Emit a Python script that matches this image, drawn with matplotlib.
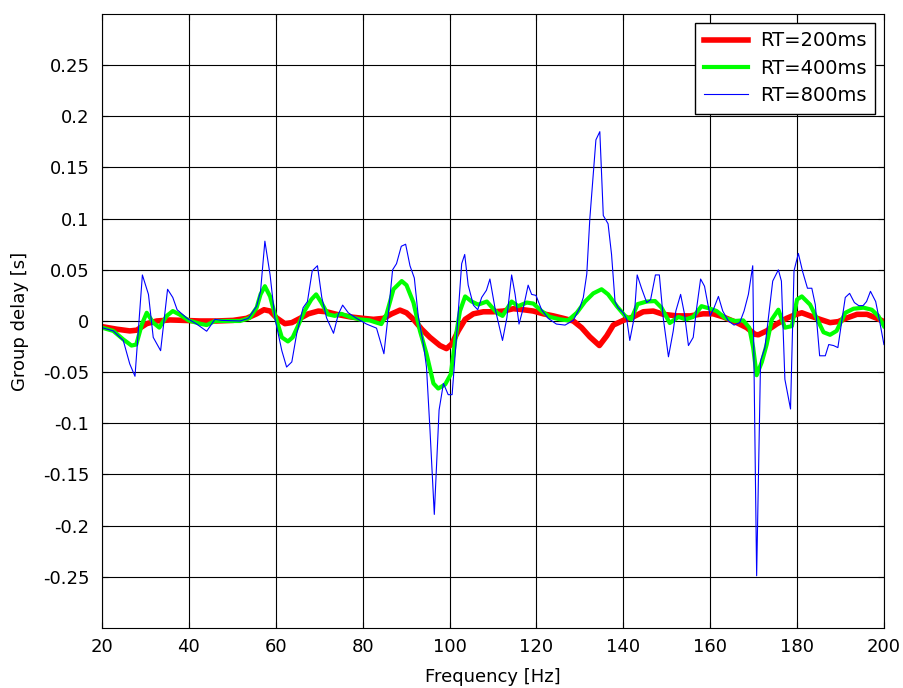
import matplotlib
matplotlib.use("Agg")
import matplotlib.pyplot as plt

plt.rcParams['font.family'] = ['DejaVu Sans']

# RT=200ms
f200 = [20, 23.4, 26.4, 28, 30.3, 32.6, 35.7, 38.7, 42.6, 46.4, 50.2, 53.3, 55.6, 57.3, 58.7,
        60.2, 62.1, 63.7, 65.6, 67.5, 69.8, 71.7, 74, 77.1, 80.1, 82.5, 84.8, 86.7, 88.6, 90.1,
        91.7, 93.6, 95.5, 97.8, 99.3, 100.5, 102, 103.6, 105.5, 107.8, 110.1, 112.4, 114.7, 117,
        119.3, 121.6, 123.9, 126.2, 128.5, 130.4, 132.3, 134.5, 136.2, 137.7, 140, 142.3, 144.6,
        146.9, 149.2, 152.3, 155.4, 158.4, 160.7, 163, 166.1, 168.4, 170.3, 171.1, 173, 175.3,
        177.6, 179.5, 181.1, 183, 185.3, 187.6, 189.5, 191.5, 193.8, 196.1, 198.4, 200]
gd200 = [-0.0055, -0.008, -0.0097, -0.009, -0.0026, 0, 0.001, 0.0006, 0, 0, 0.0006, 0.0026, 0.007,
         0.011, 0.0097, 0.003, -0.0026, -0.0016, 0.0026, 0.007, 0.0097, 0.009, 0.0065, 0.004,
         0.0026, 0.0016, 0.0026, 0.007, 0.0106, 0.008, 0.0016, -0.008, -0.016, -0.024, -0.027,
         -0.0226, -0.0097, 0.0016, 0.007, 0.009, 0.009, 0.0097, 0.012, 0.011, 0.0097, 0.007,
         0.005, 0.0026, 0, -0.0065, -0.0155, -0.024, -0.0145, -0.004, 0.0006, 0.004, 0.009,
         0.0097, 0.0065, 0.005, 0.005, 0.007, 0.007, 0.004, -0.0016, -0.0065, -0.013, -0.0135,
         -0.0097, -0.003, 0.0026, 0.006, 0.008, 0.005, 0.0016, -0.0016, -0.0006, 0.003, 0.0065,
         0.0065, 0.0026, -0.0006]

# RT=400ms
f400 = [20, 22.6, 24.9, 26.8, 27.9, 29.2, 30.3, 31.8, 33.2, 34.9, 36.3, 38, 39.9, 42.5, 44.1,
        46, 48.6, 51.8, 54, 55.6, 56.5, 57.5, 58.7, 59.8, 61.4, 62.8, 63.9, 65.1, 66.6, 68.2,
        69.3, 70.5, 72, 73.6, 75.1, 77, 79.3, 81.6, 83.2, 84.3, 85.5, 87.1, 89, 90.1, 91.7,
        93.2, 94.7, 96.3, 97.4, 99, 100.3, 101.3, 102.4, 103.6, 105.1, 106.6, 108.6, 110.9,
        112.2, 114.3, 115.8, 117.8, 119.3, 121.2, 123.1, 125.4, 127.3, 129.3, 131.2, 133.1,
        135, 136.5, 138.5, 140.4, 141.8, 143.3, 145.4, 147.3, 148.8, 150.7, 152.7, 154.4,
        156.1, 158, 160, 161.5, 163.4, 165.7, 167.6, 169, 169.9, 170.7, 171.9, 173, 174.2,
        175.7, 177.2, 178.8, 180, 181.1, 183, 184.5, 186.1, 187.6, 189.1, 191.1, 193, 195.3,
        197.2, 198.7, 200]
gd400 = [-0.0065, -0.0097, -0.018, -0.024, -0.023, -0.003, 0.008, -0.0016, -0.0065, 0.005,
         0.0097, 0.006, 0.0006, -0.0026, -0.004, 0, 0, 0, 0.003, 0.013, 0.026, 0.034, 0.024,
         0.0065, -0.016, -0.020, -0.016, -0.005, 0.0097, 0.021, 0.026, 0.018, 0.0065, 0.005,
         0.007, 0.004, 0.0016, 0.0006, -0.0016, -0.003, 0.0065, 0.031, 0.039, 0.035, 0.018,
         -0.0097, -0.032, -0.061, -0.066, -0.062, -0.052, -0.019, 0.0097, 0.024, 0.019, 0.016,
         0.019, 0.008, 0.005, 0.019, 0.0145, 0.018, 0.017, 0.0097, 0.004, 0.0016, 0.0006,
         0.008, 0.019, 0.027, 0.031, 0.026, 0.0145, 0.005, 0.0016, 0.0165, 0.019, 0.0195,
         0.013, -0.002, 0.004, 0.0016, 0.004, 0.0145, 0.012, 0.0097, 0.003, 0, 0.0006, -0.0065,
         -0.026, -0.053, -0.040, -0.023, 0.0016, 0.011, -0.0065, -0.005, 0.021, 0.024, 0.016,
         0.003, -0.011, -0.0135, -0.0097, 0.008, 0.012, 0.013, 0.011, 0.005, -0.005]

# RT=800ms
f800 = [20, 22.6, 24.9, 26.4, 27.6, 29.3, 30.7, 31.8, 33.5, 35.1, 36.3, 37.3, 39.6, 41.8, 44.1,
        46, 47.6, 51.8, 53.7, 55.6, 56.5, 57.5, 58.7, 59.8, 61.4, 62.5, 63.7, 64.8, 66.3, 67.3,
        68.4, 69.6, 70.6, 71.7, 73.3, 74.4, 75.4, 76.7, 78.6, 80.9, 83.2, 84.9, 85.9, 86.9,
        87.8, 88.9, 89.9, 90.9, 91.9, 92.8, 94, 94.7, 95.5, 96.5, 97.6, 98.6, 99.7, 100.6,
        101.6, 102.8, 103.5, 104.3, 105.5, 106.5, 107.4, 108.5, 109.3, 110.5, 112.2, 113.2,
        114.3, 115.1, 116, 117, 118.1, 118.9, 119.9, 121.2, 122.7, 124.6, 126.6, 128.5, 130,
        130.8, 131.6, 132.3, 133.7, 134.6, 135.4, 136.5, 137.3, 138.1, 138.8, 140, 140.8,
        141.5, 142.5, 143.2, 144.2, 145.4, 146.3, 147.4, 148.3, 149.2, 150.4, 151.5, 152.1,
        153.2, 154.1, 155, 156.1, 156.9, 157.8, 158.7, 159.4, 160, 160.9, 161.9, 162.9, 164.2,
        165.5, 166.8, 167.8, 168.8, 169.8, 170.7, 171.6, 172.6, 173.4, 174.4, 175.7, 176.4,
        177.2, 178.5, 179.3, 180.3, 181.3, 182.4, 183.4, 184.2, 185.2, 186.5, 187.3, 188.4,
        189.4, 191.1, 192.1, 193.2, 194.2, 195.2, 196, 196.9, 198.1, 199, 200]
gd800 = [-0.0065, -0.0097, -0.019, -0.042, -0.054, 0.045, 0.026, -0.016, -0.029, 0.031, 0.023,
         0.011, 0.0026, -0.003, -0.010, 0.0016, 0.0006, 0, 0.0026, 0.0145, 0.029, 0.078, 0.045,
         0.003, -0.029, -0.045, -0.040, -0.013, 0.013, 0.019, 0.049, 0.054, 0.023, 0.003,
         -0.012, 0.0065, 0.0155, 0.008, 0.0026, -0.003, -0.007, -0.032, 0.0065, 0.050, 0.056,
         0.073, 0.075, 0.054, 0.042, 0.005, -0.023, -0.045, -0.106, -0.189, -0.087, -0.061,
         -0.072, -0.072, -0.016, 0.056, 0.065, 0.035, 0.0155, 0.011, 0.023, 0.030, 0.041, 0.012,
         -0.019, 0.003, 0.045, 0.026, -0.003, 0.013, 0.035, 0.026, 0.025, 0.011, 0.0026,
         -0.003, -0.004, 0.0006, 0.013, 0.023, 0.046, 0.1, 0.177, 0.185, 0.103, 0.095, 0.065,
         0.019, 0.013, 0.008, 0.0016, -0.019, 0.003, 0.045, 0.032, 0.018, 0.021, 0.045, 0.045,
         0.003, -0.035, -0.0097, 0.0097, 0.026, 0.0065, -0.024, -0.016, 0.013, 0.041, 0.034,
         0.018, 0.005, 0.013, 0.024, 0.0097, 0, -0.004, -0.0016, 0.0097, 0.026, 0.054, -0.249,
         -0.039, -0.026, 0.003, 0.039, 0.050, 0.039, -0.057, -0.086, 0.049, 0.066, 0.048,
         0.032, 0.032, 0.016, -0.034, -0.034, -0.023, -0.024, -0.026, 0.023, 0.027, 0.018,
         0.015, 0.015, 0.019, 0.029, 0.019, 0, -0.023]

fig = plt.figure(figsize=(9.04, 6.88), dpi=100)
ax = fig.add_axes([0.1128, 0.0872, 0.8650, 0.8925])

ax.plot(f200, gd200, color='#ff0000', lw=4, label='RT=200ms')
ax.plot(f400, gd400, color='#00ff00', lw=3, label='RT=400ms')
ax.plot(f800, gd800, color='#0000ff', lw=0.8, label='RT=800ms')

ax.set_xlim(20, 200)
ax.set_ylim(-0.3, 0.3)
ax.set_xticks(range(20, 201, 20))
ax.set_yticks([-0.25, -0.2, -0.15, -0.1, -0.05, 0, 0.05, 0.1, 0.15, 0.2, 0.25])
ax.set_yticklabels(['-0.25', '-0.2', '-0.15', '-0.1', '-0.05', '0', '0.05', '0.1', '0.15', '0.2', '0.25'])
ax.grid(True, color='black', lw=0.8)
ax.tick_params(direction='in', labelsize=13, top=True, right=True, length=4)
ax.tick_params(axis='y', pad=9)
ax.tick_params(axis='x', pad=7)
for s in ax.spines.values():
    s.set_linewidth(0.8)

ax.set_xlabel('Frequency [Hz]', fontsize=13, labelpad=9)
ax.set_ylabel('Group delay [s]', fontsize=13, labelpad=10)

leg = ax.legend(loc='upper right', fontsize=14, fancybox=False, framealpha=1,
                edgecolor='black', borderaxespad=0.45, handlelength=2.3,
                handletextpad=0.6, labelspacing=0.42, borderpad=0.45)
leg.get_frame().set_linewidth(1.0)

fig.savefig('out.png', dpi=100)
